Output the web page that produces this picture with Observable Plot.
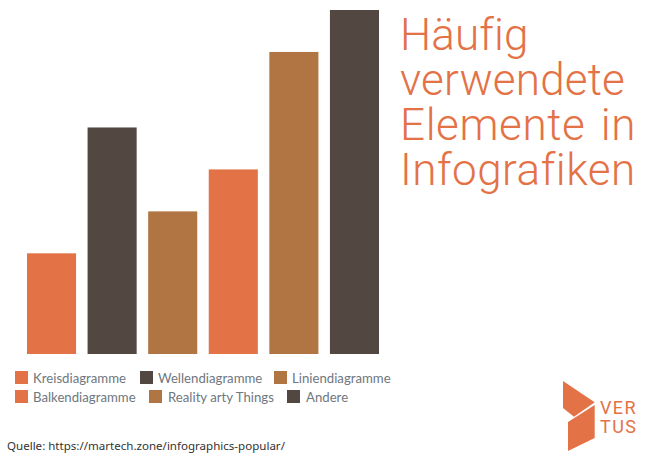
<!DOCTYPE html>
<html><head><meta charset="utf-8">
<script src="https://cdn.jsdelivr.net/npm/d3@7"></script>
<script src="https://cdn.jsdelivr.net/npm/@observablehq/plot@0.6"></script>
<style>
html,body{margin:0;padding:0;background:#fff;overflow:hidden}
#wrap{position:relative;width:648px;height:456px}
#wrap svg{position:absolute;left:0;top:0}
.t{position:absolute;white-space:nowrap}
.title{left:400px;font:300 44px/45px Roboto,sans-serif;color:#e37246}
.lg{font:400 13.2px/16px Lato,sans-serif;color:#6f7780}
.sw{position:absolute;width:13px;height:13px}
#src{left:7px;top:438px;font:400 11.55px/16px "Noto Sans",sans-serif;color:#333}
.logo{font:400 18px/18px Roboto,sans-serif;color:#e37246;letter-spacing:1.4px}
</style></head><body>
<div id="wrap"></div>
<script>
const categories=["Kreisdiagramme","Wellendiagramme","Liniendiagramme","Balkendiagramme","Reality arty Things","Andere"];
const values=[12,27,17,22,36,41];
const colors=["#e37246","#534741","#b17543","#e37246","#b17543","#534741"];
const titleLines=["Häufig","verwendete","Elemente in","Infografiken"];
const source="Quelle: https://martech.zone/infographics-popular/";
const legendRows=[[0,15,33],[1,139.5,158],[2,274,292],[3,15,33],[4,149,168],[5,287,306]];
const titleTracking=[[0.1,0],[0.2,0],[0.6,4],[0.5,0]];
const data=categories.map((c,i)=>({c,v:values[i]}));
const wrap=document.getElementById("wrap");
const chart=Plot.plot({
  width:648,height:456,
  margin:0,
  x:{domain:categories,range:[27,379],paddingInner:0.19,paddingOuter:0,round:false,axis:null},
  y:{domain:[0,41],range:[354,10],axis:null},
  color:{domain:categories,range:colors},
  marks:[Plot.barY(data,{x:"c",y:"v",fill:"c"})]
});
wrap.appendChild(chart);
function add(cls,id,html,st){const d=document.createElement("div");d.className=cls;if(id)d.id=id;d.innerHTML=html;Object.assign(d.style,st||{});wrap.appendChild(d);return d;}
titleLines.forEach((l,i)=>add("t title","",l,{top:(12.5+45*i)+"px",letterSpacing:titleTracking[i][0]+"px",wordSpacing:titleTracking[i][1]+"px"}));
legendRows.forEach(([i,sx,tx],k)=>{
  const y=k<3?371:390;
  add("sw","","",{left:sx+"px",top:y+"px",background:colors[i]});
  add("t lg","",categories[i],{left:tx+"px",top:(y-1)+"px"});
});
add("t","src",source);
const ns="http://www.w3.org/2000/svg";
const s=document.createElementNS(ns,"svg");
s.setAttribute("width",648);s.setAttribute("height",456);
s.innerHTML='<polygon fill="#e37246" points="563,381 594.7,402.3 574,416.7 563,408"/><polygon fill="#e37246" points="594.7,405 594.7,438 568,451 568,422"/>';
wrap.appendChild(s);
add("t logo","","VER",{left:"600px",top:"399px"});
add("t logo","","TUS",{left:"600px",top:"418px"});
</script>
</body></html>
